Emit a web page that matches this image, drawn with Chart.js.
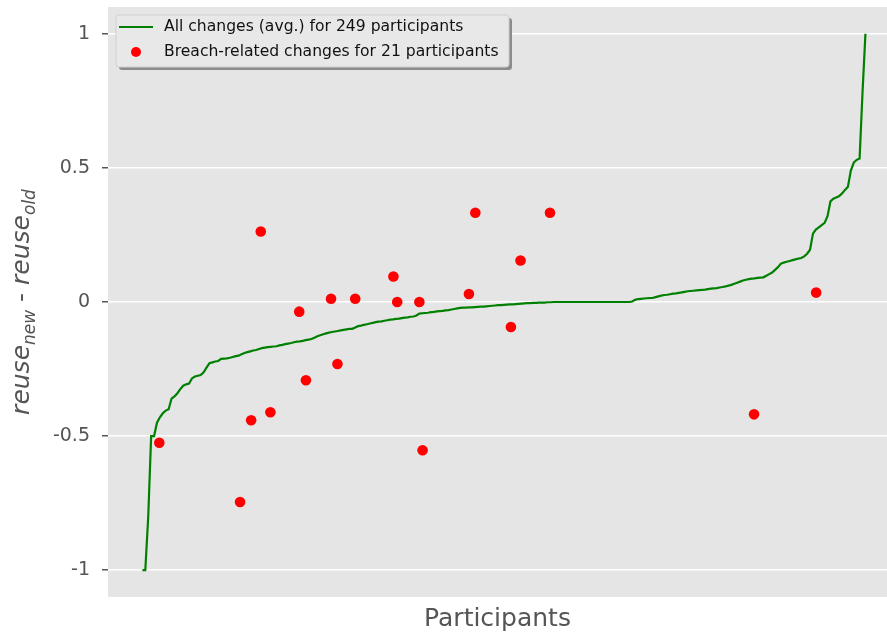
<!DOCTYPE html>
<html>
<head>
<meta charset="utf-8">
<script src="https://cdn.jsdelivr.net/npm/chart.js@4"></script>
<style>
  html, body { margin: 0; padding: 0; background: #fff; }
  #wrap { width: 887px; height: 634px; }
</style>
</head>
<body>
<div id="wrap"><canvas id="chart" width="887" height="634"></canvas></div>
<script>
// average change per participant, sorted (249 participants)
const avgChanges = [
  -1, -1, -0.8, -0.5, -0.5, -0.45, -0.43, -0.415, -0.405, -0.4,
  -0.36, -0.352, -0.34, -0.325, -0.312, -0.307, -0.304, -0.285, -0.278, -0.275,
  -0.272, -0.262, -0.245, -0.228, -0.225, -0.222, -0.22, -0.212, -0.211, -0.21,
  -0.208, -0.205, -0.202, -0.2, -0.195, -0.19, -0.187, -0.184, -0.181, -0.179,
  -0.175, -0.172, -0.17, -0.168, -0.167, -0.166, -0.165, -0.162, -0.16, -0.157,
  -0.155, -0.153, -0.15, -0.148, -0.147, -0.145, -0.142, -0.14, -0.138, -0.133,
  -0.128, -0.124, -0.12, -0.117, -0.114, -0.112,
  -0.11, -0.108, -0.106, -0.104, -0.102, -0.1, -0.1, -0.095, -0.09, -0.088,
  -0.085, -0.083, -0.08, -0.078, -0.075, -0.073, -0.072, -0.07, -0.068, -0.066,
  -0.065, -0.063, -0.062, -0.06, -0.058, -0.057, -0.055, -0.054, -0.05, -0.043,
  -0.042, -0.041, -0.04, -0.038, -0.037, -0.035, -0.034, -0.033, -0.031, -0.03,
  -0.028, -0.026, -0.024, -0.022, -0.021, -0.021, -0.02, -0.02, -0.019, -0.018,
  -0.017, -0.017, -0.016, -0.015, -0.014, -0.013, -0.012, -0.012, -0.011, -0.01,
  -0.009, -0.009, -0.008, -0.007, -0.006, -0.005, -0.004, -0.004, -0.003, -0.003,
  -0.002, -0.002, -0.002, -0.001, -0.001,
  0, 0, 0, 0, 0, 0, 0, 0, 0, 0,
  0, 0, 0, 0, 0, 0, 0, 0, 0, 0,
  0, 0, 0, 0, 0, 0, 0,
  0.002, 0.008, 0.011, 0.012, 0.013, 0.014, 0.015, 0.015, 0.018, 0.021,
  0.024, 0.026, 0.027, 0.029, 0.031, 0.032, 0.034, 0.036, 0.038, 0.04,
  0.041, 0.042, 0.043, 0.044, 0.045, 0.046, 0.048, 0.05, 0.051, 0.052,
  0.054, 0.056, 0.058, 0.061, 0.064, 0.068, 0.072, 0.076, 0.08, 0.083,
  0.085, 0.087, 0.088, 0.09, 0.091, 0.092, 0.098, 0.104, 0.11, 0.12,
  0.13, 0.143, 0.147, 0.15, 0.153, 0.156, 0.159,
  0.162, 0.164, 0.17, 0.18, 0.195, 0.255, 0.27, 0.278, 0.287, 0.295,
  0.32, 0.375, 0.385, 0.39, 0.395, 0.405, 0.418, 0.43, 0.49, 0.52,
  0.53, 0.535, 0.78, 1.0
];

// breach-related changes (21 participants): position on x and value
const breachX = [5.8, 33.5, 37.3, 40.6, 43.9, 53.8, 56.1, 64.7, 66.9, 73.0, 86.1,
                 87.4, 95.0, 96.1, 112.0, 114.2, 126.4, 129.7, 139.8, 209.8, 231.1];
const breachY = [-0.525, -0.746, -0.441, 0.263, -0.411, -0.036, -0.292, 0.012, -0.231, 0.012, 0.095,
                 0, 0, -0.553, 0.03, 0.333, -0.093, 0.155, 0.333, -0.419, 0.035];

const yTicks = [-1, -0.5, 0, 0.5, 1];
const legendLabels = ['All changes (avg.) for 249 participants', 'Breach-related changes for 21 participants'];

const GREEN = '#008000';
const RED = '#ff0000';
const GREY = '#555555';

// grey panel behind the plot (ggplot look)
const panelBg = {
    id: 'panelBg',
    beforeDraw(chart) {
        const { ctx, chartArea: a } = chart;
        ctx.save();
        ctx.fillStyle = '#E5E5E5';
        ctx.fillRect(a.left, a.top, a.right - a.left, a.bottom - a.top);
        ctx.restore();
    }
};

// axis titles (with subscripts) and the legend box
const annotations = {
    id: 'annotations',
    afterDraw(chart) {
        const { ctx, chartArea: a } = chart;
        ctx.save();

        // x title
        ctx.fillStyle = GREY;
        ctx.font = '25px "DejaVu Sans"';
        ctx.textAlign = 'center';
        ctx.textBaseline = 'middle';
        ctx.fillText('Participants', (a.left + a.right) / 2, 619);

        // y title: reuse_new - reuse_old
        const parts = [
            { t: 'reuse', f: 'italic 25px "DejaVu Sans"', dy: 0 },
            { t: 'new', f: 'italic 17px "DejaVu Sans"', dy: 6 },
            { t: ' - ', f: '25px "DejaVu Sans"', dy: 0 },
            { t: 'reuse', f: 'italic 25px "DejaVu Sans"', dy: 0 },
            { t: 'old', f: 'italic 17px "DejaVu Sans"', dy: 6 }
        ];
        let total = 0;
        parts.forEach(p => { ctx.font = p.f; p.w = ctx.measureText(p.t).width; total += p.w; });
        ctx.translate(29, (a.top + a.bottom) / 2);
        ctx.rotate(-Math.PI / 2);
        ctx.textAlign = 'left';
        ctx.textBaseline = 'alphabetic';
        let x = -total / 2;
        parts.forEach(p => { ctx.font = p.f; ctx.fillText(p.t, x, p.dy); x += p.w; });
        ctx.setTransform(1, 0, 0, 1, 0, 0);

        // legend
        const bx = 116, by = 15, bw = 393, bh = 52;
        ctx.fillStyle = '#8c8c8c';
        ctx.beginPath(); ctx.roundRect(bx + 3, by + 3, bw, bh, 3); ctx.fill();
        ctx.fillStyle = '#E8E8E8';
        ctx.strokeStyle = '#cfcfcf';
        ctx.lineWidth = 1;
        ctx.beginPath(); ctx.roundRect(bx, by, bw, bh, 3); ctx.fill(); ctx.stroke();

        ctx.strokeStyle = GREEN;
        ctx.lineWidth = 2.2;
        ctx.beginPath(); ctx.moveTo(119, 27); ctx.lineTo(153, 27); ctx.stroke();
        ctx.fillStyle = RED;
        ctx.beginPath(); ctx.arc(136, 52, 5, 0, Math.PI * 2); ctx.fill();

        ctx.fillStyle = '#111';
        ctx.font = '15.6px "DejaVu Sans"';
        ctx.textAlign = 'left';
        ctx.textBaseline = 'middle';
        ctx.fillText(legendLabels[0], 164, 27);
        ctx.fillText(legendLabels[1], 164, 52);
        ctx.restore();
    }
};

new Chart(document.getElementById('chart').getContext('2d'), {
    data: {
        datasets: [
            {
                type: 'scatter',
                label: legendLabels[1],
                data: breachX.map((x, i) => ({ x: x, y: breachY[i] })),
                backgroundColor: RED,
                borderWidth: 0,
                pointRadius: 5.3,
                order: 0
            },
            {
                type: 'line',
                label: legendLabels[0],
                data: avgChanges.map((v, i) => ({ x: i, y: v })),
                borderColor: GREEN,
                borderWidth: 2.2,
                pointRadius: 0,
                tension: 0,
                fill: false,
                order: 1
            }
        ]
    },
    options: {
        responsive: false,
        animation: false,
        devicePixelRatio: 1,
        layout: { autoPadding: false, padding: { top: 7, right: 0, bottom: 37, left: 0 } },
        plugins: { legend: { display: false }, tooltip: { enabled: false } },
        scales: {
            x: {
                type: 'linear',
                display: false,
                min: -11.8,
                max: 255.4
            },
            y: {
                type: 'linear',
                min: -1.1,
                max: 1.1,
                afterFit(scale) {
                    scale.width = 108;
                    scale.paddingTop = 0;
                    scale.paddingBottom = 0;
                },
                afterBuildTicks(scale) { scale.ticks = yTicks.map(v => ({ value: v })); },
                border: { display: false },
                grid: { color: '#ffffff', lineWidth: 1.5, tickColor: GREY, tickLength: 6 },
                ticks: {
                    color: GREY,
                    padding: 12,
                    font: { family: '"DejaVu Sans"', size: 19 },
                    callback: v => String(v)
                }
            }
        }
    },
    plugins: [panelBg, annotations]
});
</script>
</body>
</html>
